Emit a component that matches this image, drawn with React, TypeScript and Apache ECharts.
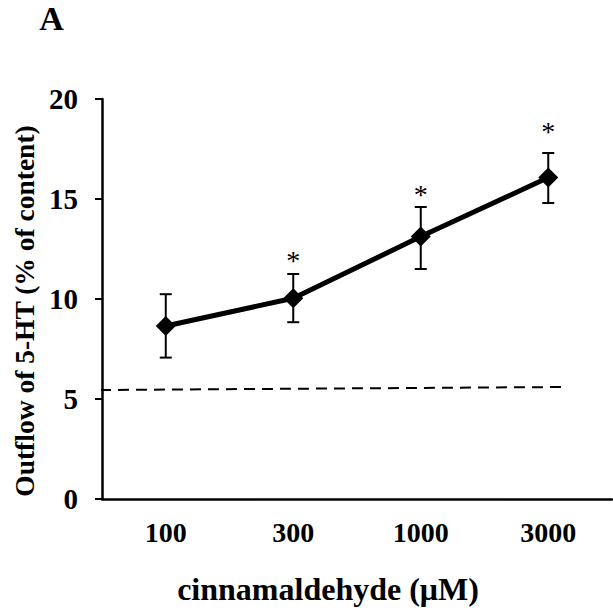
import React, { useEffect, useRef } from "react";
import * as echarts from "echarts";

const categories = ["100", "300", "1000", "3000"];
const means = [8.65, 10.04, 13.12, 16.07];
const lowErr = [7.07, 8.84, 11.5, 14.8];
const highErr = [10.24, 11.25, 14.6, 17.3];
const sigY = [null, 12.25, 15.55, 18.7];
const baselinePts = [
  [-0.516, 5.45],
  [3.116, 5.6],
];
const yTicks = [0, 5, 10, 15, 20];

const FONT = "'Liberation Serif', 'Times New Roman', serif";

export default function App() {
  const ref = useRef<HTMLDivElement>(null);
  useEffect(() => {
    document.body.style.margin = "0";
    const chart = echarts.init(ref.current!, null, { renderer: "svg" });
    const errData = categories.map((c, i) => [i, lowErr[i], highErr[i]]);
    const sigData = sigY
      .map((v, i) => (v == null ? null : [i, v]))
      .filter((d) => d !== null);
    chart.setOption({
      animation: false,
      backgroundColor: "#ffffff",
      grid: { left: 102, right: 1, top: 99, bottom: 115 },
      xAxis: [
        {
          type: "category",
          data: categories,
          boundaryGap: true,
          axisLine: { onZero: false, lineStyle: { color: "#000", width: 2.5 } },
          axisTick: {
            alignWithLabel: true,
            length: 6,
            lineStyle: { color: "#000", width: 2 },
          },
          axisLabel: {
            margin: 19,
            fontSize: 28,
            fontWeight: "bold",
            fontFamily: FONT,
            color: "#000",
          },
          splitLine: { show: false },
        },
        {
          type: "value",
          min: -0.5,
          max: 3.5,
          show: false,
        },
      ],
      yAxis: {
        type: "value",
        min: 0,
        max: 20,
        interval: 5,
        axisLine: { show: true, onZero: false, lineStyle: { color: "#000", width: 2.5 } },
        axisTick: { show: true, length: 7, lineStyle: { color: "#000", width: 2 } },
        axisLabel: {
          margin: 24,
          fontSize: 29,
          fontWeight: "bold",
          fontFamily: FONT,
          color: "#000",
          formatter: (v: number) => (yTicks.includes(v) ? String(v) : ""),
        },
        splitLine: { show: false },
      },
      graphic: [
        {
          type: "text",
          x: 51.5,
          y: 18,
          style: {
            text: "A",
            fontSize: 34,
            fontWeight: "bold",
            fontFamily: FONT,
            fill: "#000",
            align: "center",
            verticalAlign: "middle",
          },
        },
        {
          type: "text",
          x: 328,
          y: 589,
          style: {
            text: "cinnamaldehyde (μM)",
            fontSize: 32,
            fontWeight: "bold",
            fontFamily: FONT,
            fill: "#000",
            align: "center",
            verticalAlign: "middle",
          },
        },
        {
          type: "text",
          x: 24,
          y: 311,
          rotation: Math.PI / 2,
          style: {
            text: "Outflow of 5-HT (% of content)",
            fontSize: 27.5,
            fontWeight: "bold",
            fontFamily: FONT,
            fill: "#000",
            align: "center",
            verticalAlign: "middle",
          },
        },
      ],
      series: [
        {
          type: "line",
          xAxisIndex: 1,
          data: baselinePts,
          symbol: "none",
          clip: false,
          lineStyle: { color: "#000", width: 2, type: [11, 7] },
          z: 1,
        },
        {
          type: "custom",
          xAxisIndex: 0,
          data: errData,
          z: 2,
          renderItem: (params: any, api: any) => {
            const x = api.value(0);
            const lo = api.coord([x, api.value(1)]);
            const hi = api.coord([x, api.value(2)]);
            const cap = 6;
            const st = { stroke: "#000", lineWidth: 2 };
            return {
              type: "group",
              children: [
                { type: "line", shape: { x1: lo[0], y1: lo[1], x2: hi[0], y2: hi[1] }, style: st },
                { type: "line", shape: { x1: lo[0] - cap, y1: lo[1], x2: lo[0] + cap, y2: lo[1] }, style: st },
                { type: "line", shape: { x1: hi[0] - cap, y1: hi[1], x2: hi[0] + cap, y2: hi[1] }, style: st },
              ],
            };
          },
        },
        {
          type: "line",
          xAxisIndex: 0,
          data: means,
          symbol: "diamond",
          symbolSize: [20, 20],
          lineStyle: { color: "#000", width: 5 },
          itemStyle: { color: "#000" },
          z: 3,
        },
        {
          type: "custom",
          xAxisIndex: 0,
          data: sigData,
          z: 4,
          renderItem: (params: any, api: any) => {
            const p = api.coord([api.value(0), api.value(1)]);
            return {
              type: "text",
              x: p[0],
              y: p[1] + 6,
              style: {
                text: "*",
                fontSize: 28,
                fontFamily: FONT,
                fill: "#000",
                align: "center",
                verticalAlign: "middle",
              },
            };
          },
        },
      ],
    });
    return () => chart.dispose();
  }, []);
  return <div ref={ref} style={{ width: 613, height: 614 }} />;
}
